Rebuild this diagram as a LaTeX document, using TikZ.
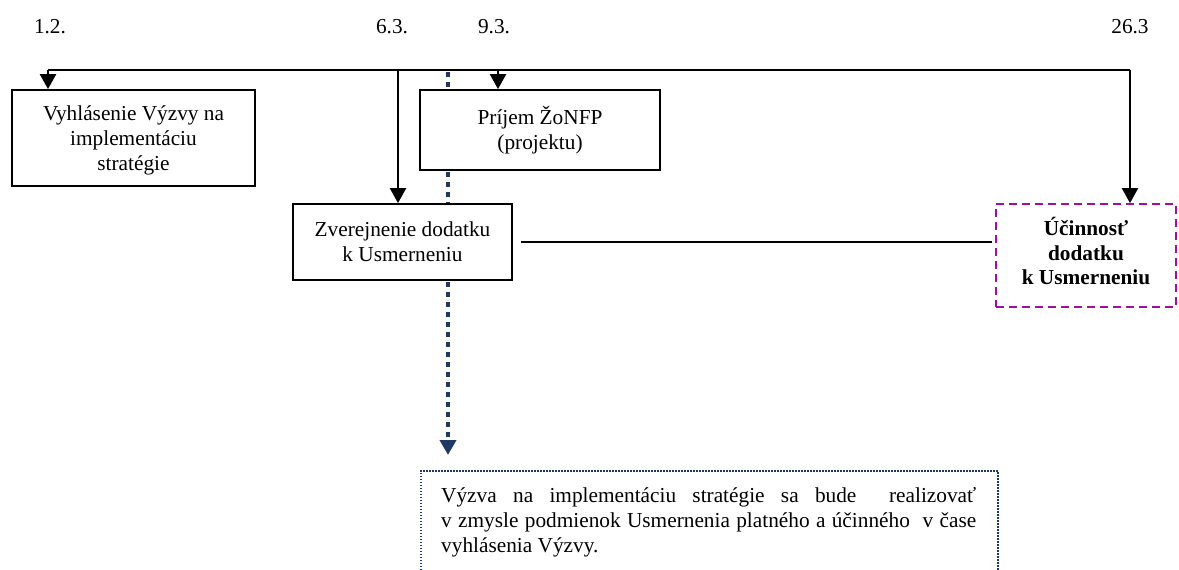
\documentclass[tikz,border=0pt]{standalone}
\usepackage{fontspec}
\setmainfont{Liberation Serif}
\usetikzlibrary{arrows.meta,backgrounds}

\definecolor{dotblue}{RGB}{31,56,100}
\definecolor{dashpurple}{RGB}{160,16,160}

\tikzset{
    txt/.style={font=\fontsize{21.3}{24.8}\selectfont},
    box/.style={txt, draw, line width=1.8pt, fill=white, align=center, inner sep=0pt},
    datum/.style={txt, anchor=base, inner sep=0pt},
    link/.style={line width=2.2pt},
    tick/.style={line width=2.4pt, -{Triangle[width=16pt,length=15pt]}},
    dots/.style={dotblue, line width=4.8pt, dash pattern=on 4.5pt off 5.5pt, -{Triangle[width=16pt,length=15pt]}}
}

\begin{document}
\begin{tikzpicture}[x=1pt,y=1pt,yscale=-1,xscale=1]
            \useasboundingbox (0,0) rectangle (1179,570);

            % Text Node
            \node[datum] (d12) at (50,34) {1.2.};
            % Text Node
            \node[datum] (d63) at (392,34) {6.3.};
            % Text Node
            \node[datum] (d93) at (494,34) {9.3.};
            % Text Node
            \node[datum] (d263) at (1130,34) {26.3};

            %Shape: Rectangle
            \node[box, minimum width=243, minimum height=96] (vyhl) at (133.5,138) {\rule{0pt}{20pt}Vyhlásenie Výzvy na\\implementáciu\\stratégie};
            %Shape: Rectangle
            \node[box, minimum width=240, minimum height=80] (prij) at (540,130) {Príjem ŽoNFP\\(projektu)};
            %Shape: Rectangle
            \node[box, minimum width=219, minimum height=76] (zver) at (402.5,242) {Zverejnenie dodatku\\k Usmerneniu};
            %Shape: Rectangle (dashed)
            \node[box, draw=dashpurple, dash pattern=on 8pt off 5pt, minimum width=180, minimum height=103, font=\fontsize{21.3}{24.8}\selectfont\bfseries] (ucin) at (1086,255.5) {Účinnosť\\dodatku\\k Usmerneniu\rule[-9pt]{0pt}{9pt}};
            %Shape: Rectangle (dotted)
            \node[draw=dotblue, line width=1.5pt, dash pattern=on 1.5pt off 1.5pt, anchor=north west, minimum width=577, minimum height=140, inner sep=0pt] (note) at (420,470) {};
            % Text Node
            \node[anchor=north west, inner sep=0pt, text width=535pt, align=justify, font=\fontsize{21.3}{25}\selectfont] (notetext) at (441,487) {Výzva na implementáciu stratégie sa bude \ realizovať\linebreak v zmysle podmienok Usmernenia platného a účinného \ v čase\linebreak vyhlásenia Výzvy.};

            %Straight Lines
            \coordinate (c12) at (48,70);
            \coordinate (c63) at (398,70);
            \coordinate (c93) at (498,70);
            \coordinate (c263) at (1130,70);
            \coordinate (ctop) at (448,72);
            \draw[link] (c12) -- (c263);
            \draw[tick] (c12) -- (c12 |- vyhl.north);
            \draw[tick] (c63) -- (c63 |- zver.north);
            \draw[tick] (c93) -- (c93 |- prij.north);
            \draw[tick] (c263) -- (c263 |- ucin.north);
            \draw[link] ([xshift=8pt]zver.east) -- ([xshift=-3pt]zver.east -| ucin.west);

            %Dotted arrow
            \begin{scope}[on background layer]
            \draw[dots, shorten >=15pt] (ctop) -- (ctop |- note.north);
            \end{scope}

        \end{tikzpicture}
\end{document}
